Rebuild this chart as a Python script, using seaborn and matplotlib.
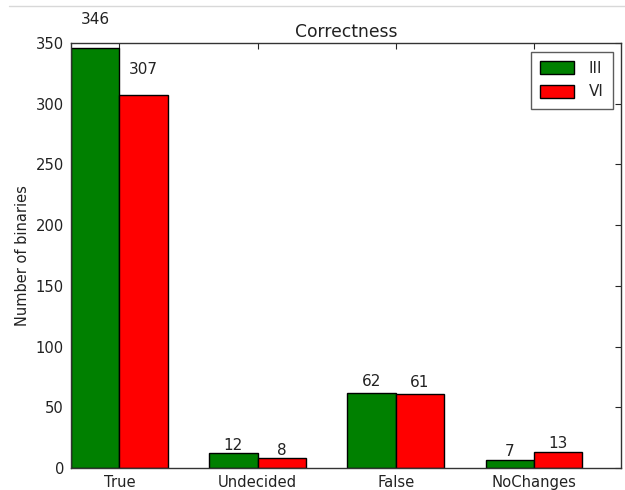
import matplotlib
matplotlib.use("Agg")
import matplotlib.pyplot as plt
from matplotlib.lines import Line2D
import seaborn as sns
import pandas as pd

categories = ["True", "Undecided", "False", "NoChanges"]
series_names = ["III", "VI"]
values_iii = [346, 12, 62, 7]
values_vi = [307, 8, 61, 13]
y_ticks = [0, 50, 100, 150, 200, 250, 300, 350]

df = pd.DataFrame({
    "category": categories * 2,
    "series": [series_names[0]] * len(categories) + [series_names[1]] * len(categories),
    "count": values_iii + values_vi,
})

sns.set_style("white", {"xtick.direction": "in", "ytick.direction": "in",
                        "axes.edgecolor": "black"})
plt.rcParams["font.family"] = ["DejaVu Sans"]

fig = plt.figure(figsize=(6.25, 4.9), dpi=100)
fig.patch.set_facecolor("white")
ax = fig.add_axes([71 / 625, 22 / 490, 550 / 625, 425 / 490])

sns.barplot(data=df, x="category", y="count", hue="series", order=categories,
            hue_order=series_names, palette=["#008000", "#ff0000"],
            width=0.7, gap=0, edgecolor="black", linewidth=1.0, saturation=1,
            ax=ax)

# value labels sit just above each bar
for container in ax.containers:
    for bar in container:
        h = bar.get_height()
        ax.text(bar.get_x() + bar.get_width() / 2, 1.05 * h, "%d" % int(h),
                ha="center", va="bottom", fontsize=11, color="#222222")

ax.set_xlim(-0.35, 3.63)
ax.set_ylim(0, 350)
ax.set_yticks(y_ticks)
ax.set_xlabel("")
ax.set_ylabel("Number of binaries", fontsize=10.5, color="#222222", labelpad=4)
ax.set_title("Correctness", fontsize=12.3, color="#222222", pad=4)
ax.tick_params(axis="both", which="both", direction="in", top=True, right=True,
               length=4, width=0.8, labelsize=10.6, labelcolor="#222222", pad=5)
for s in ax.spines.values():
    s.set_linewidth(1.0)
    s.set_color("#333333")

leg = ax.legend(loc="upper right", fontsize=11, frameon=True, fancybox=False,
                edgecolor="#333333", handlelength=2.2, handleheight=0.9,
                borderpad=0.6, labelspacing=0.55, handletextpad=1.0,
                borderaxespad=0, bbox_to_anchor=(0.9855, 0.979))
leg.get_frame().set_linewidth(1.0)

# thin frame line along the top of the canvas
fig.add_artist(Line2D([9 / 625, 1.0], [1 - 6 / 490, 1 - 6 / 490],
                      transform=fig.transFigure, color="#d8d8d8", linewidth=1.0))

fig.savefig("out.png", dpi=100, facecolor="white")
